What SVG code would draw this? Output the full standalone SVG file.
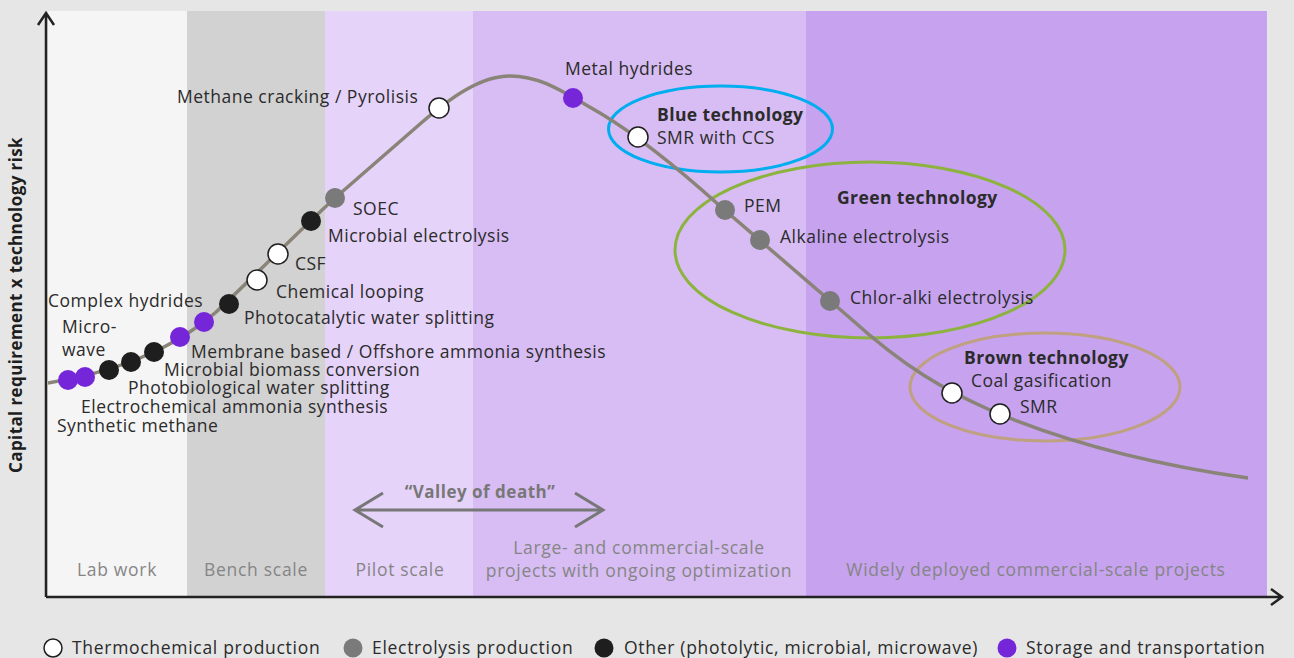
<svg xmlns="http://www.w3.org/2000/svg" width="1294" height="658" viewBox="0 0 1294 658">
<style>
text{font-family:"Open Sans","Liberation Sans",sans-serif;}
.lbl{font-size:17.5px;fill:#2b2b2b;letter-spacing:0.5px;}
.b{font-weight:700;letter-spacing:0.4px;}
.stage{font-size:17.5px;fill:#858585;text-anchor:middle;letter-spacing:0.7px;}
.leg{font-size:17.5px;fill:#2b2b2b;letter-spacing:0.7px;}
.wh{fill:#fff;stroke:#1e1e1e;stroke-width:1.5;}
.gr{fill:#7a7a7a;}
.bk{fill:#1e1e1e;}
.pu{fill:#7526d9;}
.ax{stroke:#222;stroke-width:2.5;fill:none;}
</style>
<rect width="1294" height="658" fill="#e6e6e6"/>
<g id="bands">
<rect x="48" y="11" width="139" height="586" fill="#f5f5f5"/>
<rect x="187" y="11" width="138" height="586" fill="#d2d2d2"/>
<rect x="325" y="11" width="148" height="586" fill="#e6d3fa"/>
<rect x="473" y="11" width="333" height="586" fill="#d7bdf3"/>
<rect x="806" y="11" width="461" height="586" fill="#c6a2ef"/>
</g>
<g id="stages">
<text class="stage" x="117" y="576">Lab work</text>
<text class="stage" x="256" y="576">Bench scale</text>
<text class="stage" x="400" y="576">Pilot scale</text>
<text class="stage" x="639" y="554">Large- and commercial-scale</text>
<text class="stage" x="639" y="577">projects with ongoing optimization</text>
<text class="stage" x="1036" y="576">Widely deployed commercial-scale projects</text>
</g>
<g id="axes">
<path class="ax" d="M46,597 V13 M38,25 L46,13 L54,25"/>
<path class="ax" d="M46,597 H1282 M1271,589 L1282,597 L1271,605"/>
<text x="22" y="305" transform="rotate(-90 22 305)" text-anchor="middle" font-size="17" font-weight="700" fill="#1e1e1e" letter-spacing="0.4">Capital requirement x technology risk</text>
</g>
<g id="ellipses" fill="none" stroke-width="3">
<ellipse cx="720.5" cy="129" rx="112" ry="43" stroke="#00aeef"/>
<ellipse cx="870" cy="250" rx="195" ry="88" stroke="#8db33f"/>
<ellipse cx="1045" cy="387" rx="135" ry="54" stroke="#bfa07f"/>
</g>
<g id="connectors">
<path d="M48,383 C80,378 110,370 140,358 C170,346 195,330 215,313 C240,290 300,230 335,198 L420,124 C450,98 480,76 510,76 C540,76 560,90 600,113 C640,137 680,170 720,206 L850,318 C905,368 945,390 990,410 C1060,440 1150,464 1248,478" fill="none" stroke="#8a8478" stroke-width="3.5"/>
<g id="valley" stroke="#777" stroke-width="3" fill="none">
<path d="M355,510 H603 M383,493 L355,510 L383,527 M575,493 L603,510 L575,527"/>
</g>
</g>
<text x="480" y="498" text-anchor="middle" font-size="17" font-weight="700" fill="#777" letter-spacing="0.5">“Valley of death”</text>
<g id="n-synmeth"><circle class="pu" cx="68" cy="380" r="10"/><text class="lbl" x="57" y="432">Synthetic methane</text></g>
<g id="n-electroamm"><circle class="pu" cx="85" cy="377" r="10"/><text class="lbl" x="81" y="413">Electrochemical ammonia synthesis</text></g>
<g id="n-photobio"><circle class="bk" cx="109" cy="370" r="10"/><text class="lbl" x="128" y="394">Photobiological water splitting</text></g>
<g id="n-microbio"><circle class="bk" cx="131" cy="362" r="10"/><text class="lbl" x="164" y="376">Microbial biomass conversion</text></g>
<g id="n-microwave"><circle class="bk" cx="154" cy="352" r="10"/><text class="lbl" x="62" y="333">Micro-</text><text class="lbl" x="62" y="356">wave</text></g>
<g id="n-membrane"><circle class="pu" cx="180" cy="337" r="10"/><text class="lbl" x="191" y="358">Membrane based / Offshore ammonia synthesis</text></g>
<g id="n-complex"><circle class="pu" cx="204" cy="322" r="10"/><text class="lbl" x="48" y="307">Complex hydrides</text></g>
<g id="n-photocat"><circle class="bk" cx="229" cy="304" r="10"/><text class="lbl" x="244" y="324">Photocatalytic water splitting</text></g>
<g id="n-chemloop"><circle class="wh" cx="257" cy="280" r="10"/><text class="lbl" x="276" y="298">Chemical looping</text></g>
<g id="n-csf"><circle class="wh" cx="278" cy="254" r="10"/><text class="lbl" x="295" y="270">CSF</text></g>
<g id="n-microel"><circle class="bk" cx="311" cy="221" r="10"/><text class="lbl" x="328" y="242">Microbial electrolysis</text></g>
<g id="n-soec"><circle class="gr" cx="335" cy="198" r="10"/><text class="lbl" x="353" y="215">SOEC</text></g>
<g id="n-methane"><circle class="wh" cx="439" cy="108" r="10"/><text class="lbl" x="177" y="103">Methane cracking / Pyrolisis</text></g>
<g id="n-metal"><circle class="pu" cx="573" cy="98" r="10"/><text class="lbl" x="565" y="75">Metal hydrides</text></g>
<g id="n-smrccs"><circle class="wh" cx="638" cy="137" r="10"/><text class="lbl b" x="657" y="121">Blue technology</text><text class="lbl" x="657" y="144">SMR with CCS</text></g>
<g id="n-pem"><circle class="gr" cx="725" cy="210" r="10"/><text class="lbl" x="744" y="212">PEM</text></g>
<g id="n-alk"><circle class="gr" cx="760" cy="240" r="10"/><text class="lbl b" x="837" y="204">Green technology</text><text class="lbl" x="780" y="243">Alkaline electrolysis</text></g>
<g id="n-chlor"><circle class="gr" cx="830" cy="301" r="10"/><text class="lbl" x="850" y="304">Chlor-alki electrolysis</text></g>
<g id="n-coal"><circle class="wh" cx="952" cy="393" r="10"/><text class="lbl b" x="964" y="364">Brown technology</text><text class="lbl" x="971" y="387">Coal gasification</text></g>
<g id="n-smr"><circle class="wh" cx="1000" cy="414" r="10"/><text class="lbl" x="1020" y="413">SMR</text></g>
<g id="legend">
<circle class="wh" cx="53" cy="648" r="9"/><text class="leg" x="72" y="654">Thermochemical production</text>
<circle class="gr" cx="353" cy="648" r="9.5"/><text class="leg" x="372" y="654">Electrolysis production</text>
<circle class="bk" cx="604" cy="648" r="9.5"/><text class="leg" x="624" y="654">Other (photolytic, microbial, microwave)</text>
<circle class="pu" cx="1007" cy="648" r="9.5"/><text class="leg" x="1026" y="654">Storage and transportation</text>
</g>
</svg>
